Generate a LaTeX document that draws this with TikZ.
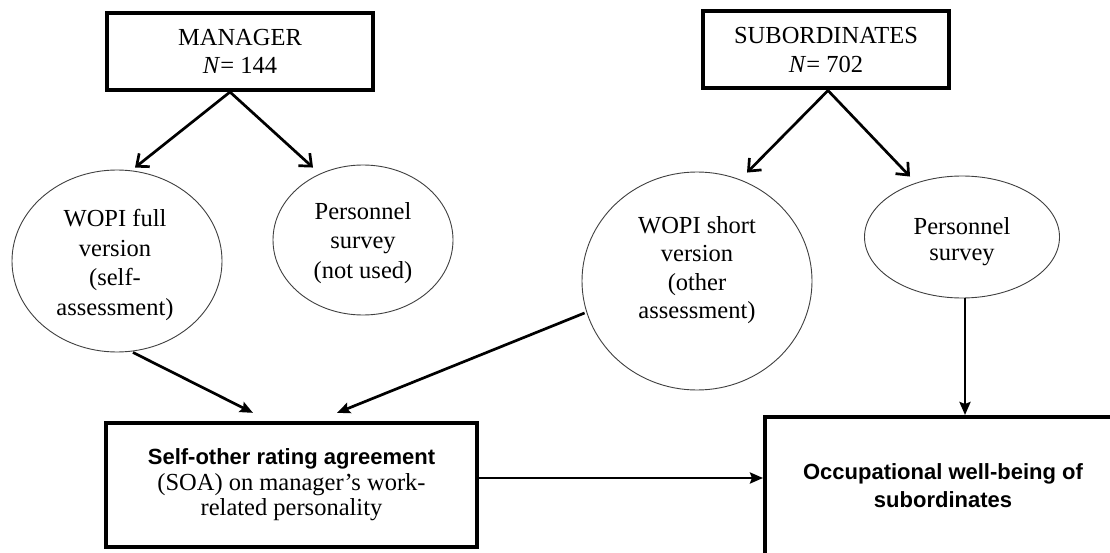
\documentclass[tikz,border=0pt]{standalone}
\usepackage{fontspec}
\setmainfont{Liberation Serif}
\newfontfamily\boldsans{Liberation Sans}
\usetikzlibrary{arrows.meta,shapes.geometric,calc}
\begin{document}
\begin{tikzpicture}[x=1pt,y=-1pt,
  txt/.style={font=\fontsize{24.5}{29.5}\selectfont, align=center, inner sep=0pt},
  topbox/.style={draw, line width=4pt, align=center, inner sep=0pt, font=\fontsize{24.5}{28.5}\selectfont},
  lowbox/.style={draw, line width=4.3pt, align=center, inner sep=0pt},
  oval/.style={draw, ellipse, line width=0.9pt, draw=black!75, inner sep=0pt},
  barb/.style={line width=2.7pt, -{Straight Barb[length=10pt,width=17pt,line width=2.7pt]}},
  tri/.style={line width=2.7pt, -{Stealth[length=13pt,width=11pt,inset=2pt]}}
]
\useasboundingbox (0,0) rectangle (1110,553);
\clip (0,0) rectangle (1110,553);
\fill[white] (0,0) rectangle (1110,553);

% top boxes
\node[topbox, minimum width=266pt, minimum height=77pt] (mgr) at (240,51.5) {MANAGER\\\textit{N}= 144};
\node[topbox, minimum width=246pt, minimum height=77pt] (sub) at (826,50) {SUBORDINATES\\\textit{N}= 702};

% ellipses
\node[oval, minimum width=210pt, minimum height=182pt] (e1) at (117,261) {};
\node[txt] (e1t) at (115,265) {WOPI full\\version\\(self-\\assessment)};
\node[oval, minimum width=180pt, minimum height=150pt] (e2) at (363,240) {};
\node[txt] (e2t) at (363,243) {Personnel\\survey\\(not used)};
\node[oval, minimum width=230pt, minimum height=218pt] (e3) at (697,281) {};
\node[txt, font=\fontsize{24.5}{28.5}\selectfont] (e3t) at (697,270) {WOPI short\\version\\(other\\assessment)};
\node[oval, minimum width=195pt, minimum height=122pt] (e4) at (962,237) {};
\node[txt, font=\fontsize{24.5}{26}\selectfont] (e4t) at (962,242) {Personnel\\survey};

% bottom boxes
\node[lowbox, minimum width=371pt, minimum height=124pt] (soa) at (291.5,485) {};
\node[align=center, inner sep=0pt, font=\fontsize{24.5}{25.5}\selectfont] (soat) at (291.5,485)
  {{\boldsans\bfseries\fontsize{22}{25.5}\selectfont Self-other rating agreement}\\
   (SOA) on manager's work-\\
   related personality};
\node[lowbox, minimum width=357pt, minimum height=150pt, anchor=north west] (wb) at (763,415) {};
\node[align=center, inner sep=0pt, font=\boldsans\bfseries\fontsize{22}{28}\selectfont] (wbt) at (943,486)
  {Occupational well-being of\\subordinates};

% arrows from top boxes
\draw[barb] ([xshift=-10pt]mgr.south) -- ([xshift=18pt,yshift=2pt]e1.north);
\draw[barb] ([xshift=-10pt]mgr.south) -- ([xshift=-50pt,yshift=-3pt]e2.north);
\draw[barb] ([xshift=2pt]sub.south) -- ([xshift=50pt,yshift=-1pt]e3.north);
\draw[barb] ([xshift=2pt]sub.south) -- ([xshift=-52pt,yshift=-1pt]e4.north);

% arrows to bottom boxes
\draw[tri] ([xshift=16pt]e1.south) -- ([xshift=-38.5pt,yshift=8pt]soa.north);
\draw[tri] ([xshift=3pt,yshift=-32pt]e3.west) -- ([xshift=45.5pt,yshift=8pt]soa.north);
\draw[tri] ([xshift=3pt]e4.south) -- ([xshift=3pt]e4.south |- wb.north);
\draw[tri] ([yshift=7pt]soa.east) -- ([yshift=7pt]soa.east -| wb.west);
\end{tikzpicture}
\end{document}
